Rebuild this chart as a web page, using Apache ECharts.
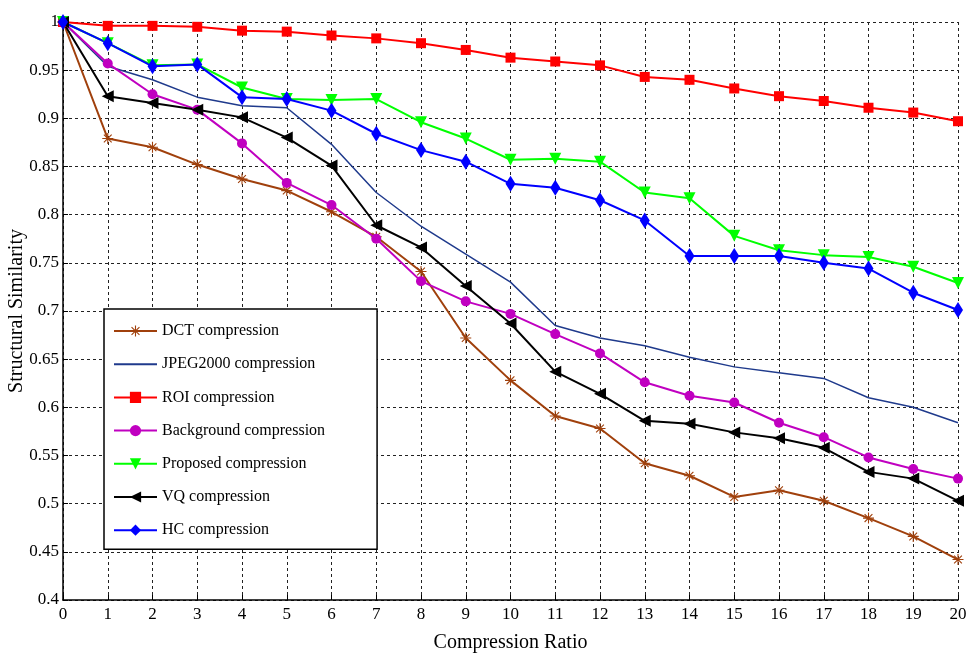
<!DOCTYPE html>
<html>
<head>
<meta charset="utf-8">
<script src="https://cdn.jsdelivr.net/npm/echarts@6/dist/echarts.min.js"></script>
<style>
  html, body { margin: 0; padding: 0; background: #fff; }
  #chart { width: 968px; height: 653px; }
</style>
</head>
<body>
<div id="chart"></div>
<script>
// compression ratio 0..20
const ratios = [0, 1, 2, 3, 4, 5, 6, 7, 8, 9, 10, 11, 12, 13, 14, 15, 16, 17, 18, 19, 20];

const dct = [1.0, 0.879, 0.870, 0.852, 0.837, 0.825, 0.803, 0.777, 0.741, 0.672, 0.628, 0.591, 0.578, 0.542, 0.529, 0.507, 0.514, 0.503, 0.485, 0.466, 0.442];
const jpeg2000 = [1.0, 0.954, 0.940, 0.922, 0.913, 0.911, 0.873, 0.823, 0.788, 0.759, 0.730, 0.685, 0.672, 0.664, 0.652, 0.642, 0.636, 0.630, 0.610, 0.600, 0.584];
const roi = [1.0, 0.996, 0.996, 0.995, 0.991, 0.990, 0.986, 0.983, 0.978, 0.971, 0.963, 0.959, 0.955, 0.943, 0.940, 0.931, 0.923, 0.918, 0.911, 0.906, 0.897];
const background = [1.0, 0.957, 0.925, 0.909, 0.874, 0.833, 0.810, 0.775, 0.731, 0.710, 0.697, 0.676, 0.656, 0.626, 0.612, 0.605, 0.584, 0.569, 0.548, 0.536, 0.526];
const proposed = [1.0, 0.978, 0.955, 0.956, 0.932, 0.920, 0.919, 0.920, 0.896, 0.879, 0.857, 0.858, 0.855, 0.823, 0.817, 0.778, 0.763, 0.758, 0.756, 0.746, 0.729];
const vq = [1.0, 0.923, 0.916, 0.909, 0.901, 0.880, 0.851, 0.789, 0.766, 0.726, 0.687, 0.637, 0.614, 0.586, 0.583, 0.574, 0.568, 0.558, 0.533, 0.526, 0.503];
const hc = [1.0, 0.978, 0.954, 0.956, 0.922, 0.920, 0.908, 0.884, 0.867, 0.855, 0.832, 0.828, 0.815, 0.794, 0.757, 0.757, 0.757, 0.750, 0.744, 0.719, 0.701];

const seriesNames = ['DCT compression', 'JPEG2000 compression', 'ROI compression', 'Background compression', 'Proposed compression', 'VQ compression', 'HC compression'];

const FONT = '"Liberation Serif", "Times New Roman", serif';

// asterisk marker (like matlab '*')
const starPath = 'path://M9 0L11 0L11 20L9 20Z M0 9L20 9L20 11L0 11Z ' +
    'M3.64 2.22L17.78 16.36L16.36 17.78L2.22 3.64Z M16.36 2.22L17.78 3.64L3.64 17.78L2.22 16.36Z';

const pair = function (arr) {
    return ratios.map(function (x, i) { return [x, arr[i]]; });
};

const mkSeries = function (name, arr, color, symbol, size, rotate, width) {
    return {
        name: name,
        type: 'line',
        data: pair(arr),
        symbol: symbol,
        symbolSize: size,
        symbolRotate: rotate,
        showSymbol: symbol !== 'none',
        lineStyle: { color: color, width: width },
        itemStyle: { color: color },
        emphasis: { disabled: true },
        animation: false
    };
};

const chart = echarts.init(document.getElementById('chart'));

const option = {
    backgroundColor: '#fff',
    animation: false,
    grid: {
        left: 63,
        right: 10,
        top: 22,
        bottom: 53,
        containLabel: false,
        outerBoundsMode: 'none'
    },
    legend: {
        orient: 'vertical',
        left: 104,
        top: 309,
        padding: [14, 52, 11, 9],
        itemWidth: 43,
        itemHeight: 14,
        itemGap: 17.2,
        borderColor: '#000',
        borderWidth: 1.5,
        backgroundColor: '#fff',
        textStyle: { fontFamily: FONT, fontSize: 16, color: '#000' },
        data: seriesNames.map(function (n, i) {
            // JPEG2000 has no marker, keep just the line in the legend
            return i === 1 ? { name: n, itemStyle: { color: 'transparent', borderWidth: 0 } } : { name: n };
        })
    },
    xAxis: {
        type: 'value',
        min: 0,
        max: 20,
        interval: 1,
        name: 'Compression Ratio',
        nameLocation: 'middle',
        nameGap: 33,
        nameMoveOverlap: false,
        nameTextStyle: { fontFamily: FONT, fontSize: 20, color: '#000' },
        axisLine: { show: true, lineStyle: { color: '#000', width: 1.5 } },
        axisTick: { show: true, inside: true, length: 5, lineStyle: { color: '#000' } },
        axisLabel: { fontFamily: FONT, fontSize: 17, color: '#000', margin: 6 },
        splitLine: { show: true, lineStyle: { color: '#222', type: [3, 3], width: 1 } }
    },
    yAxis: {
        type: 'value',
        min: 0.4,
        max: 1,
        interval: 0.05,
        name: 'Structural Similarity',
        nameLocation: 'middle',
        nameGap: 36,
        nameMoveOverlap: false,
        nameTextStyle: { fontFamily: FONT, fontSize: 20, color: '#000' },
        axisLine: { show: true, lineStyle: { color: '#000', width: 1.5 } },
        axisTick: { show: true, inside: true, length: 5, lineStyle: { color: '#000' } },
        axisLabel: { fontFamily: FONT, fontSize: 17, color: '#000', margin: 4 },
        splitLine: { show: true, lineStyle: { color: '#222', type: [3, 3], width: 1 } }
    },
    series: [
        mkSeries(seriesNames[0], dct, '#A0400C', starPath, 11, 0, 2),
        mkSeries(seriesNames[1], jpeg2000, '#1F3A8C', 'none', 0, 0, 1.5),
        mkSeries(seriesNames[2], roi, '#FF0000', 'rect', 10, 0, 2),
        mkSeries(seriesNames[3], background, '#C000C0', 'circle', 10, 0, 2),
        mkSeries(seriesNames[4], proposed, '#00FF00', 'triangle', 12, 180, 2),
        mkSeries(seriesNames[5], vq, '#000000', 'triangle', 12, 90, 2),
        mkSeries(seriesNames[6], hc, '#0000FF', 'diamond', [10, 16], 0, 2)
    ]
};

chart.setOption(option);
</script>
</body>
</html>
